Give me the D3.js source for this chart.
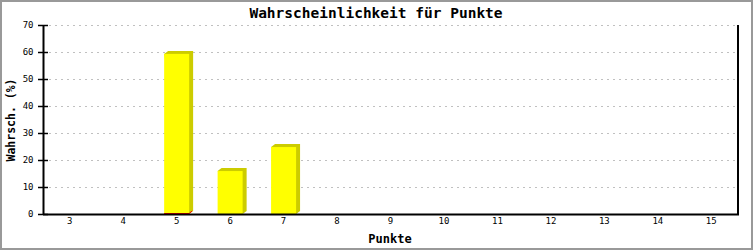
<!DOCTYPE html>
<html>
<head>
	<meta charset="UTF-8" />
	<title>Wahrscheinlichkeit</title>
	<script src="https://d3js.org/d3.v7.min.js"></script>
	<style>
		body { margin: 0; background: #fff; }
		text { font-family: "DejaVu Sans Mono", "Liberation Mono", monospace; fill: #000; }
	</style>
</head>
<body>
	<svg id="chart" width="753" height="250"></svg>

	<script type="text/javascript">
	// data
	var punkte = ["3","4","5","6","7","8","9","10","11","12","13","14","15"]
	var wahrsch = [0, 0, 59.3, 15.9, 24.8, 0, 0, 0, 0, 0, 0, 0, 0]
	var yTicks = [0, 10, 20, 30, 40, 50, 60, 70]
	var redBase = ["5"] // red bottom edge seen under this bar

	var yellow = "#ffff00"
	var shade = "#cccc00"
	var grid = "#c0c0c0"

	var svg = d3.select("#chart")
	var pLeft = 43, pRight = 738, pTop = 25, pBottom = 214
	var dx = 4, dy = 3 // shading offset

	svg.append("rect").attr("x", 1).attr("y", 1).attr("width", 751).attr("height", 248)
		.style("fill", "#fff").style("stroke", "#999").style("stroke-width", 2)

	var x = d3.scaleBand().domain(punkte).range([pLeft, pRight])
	var y = d3.scaleLinear().domain([0, 70]).range([pBottom, pTop])

	// grid
	svg.append("g").selectAll("line").data(yTicks.filter(d => d > 0)).enter()
		.append("line")
		.attr("x1", pLeft + 6).attr("x2", pRight)
		.attr("y1", d => y(d) + 0.5).attr("y2", d => y(d) + 0.5)
		.style("stroke", grid).style("stroke-dasharray", "2,4")

	// bars
	var bw = 25
	var bars = svg.append("g").selectAll("g").data(punkte.map((p, i) => ({p: p, v: wahrsch[i]})).filter(d => d.v > 0))
		.enter().append("g")
	bars.append("path")
		.attr("d", d => {
			var x0 = x(d.p) + x.bandwidth() / 2 - bw / 2, x1 = x0 + bw, yt = y(d.v)
			return `M${x0},${yt}L${x0 + dx},${yt - dy}L${x1 + dx},${yt - dy}L${x1 + dx},${pBottom - dy}L${x1},${pBottom}Z`
		})
		.style("fill", shade)
	bars.append("rect")
		.attr("x", d => x(d.p) + x.bandwidth() / 2 - bw / 2)
		.attr("y", d => y(d.v))
		.attr("width", bw)
		.attr("height", d => pBottom - y(d.v))
		.style("fill", yellow)

	svg.append("g").selectAll("path").data(redBase).enter().append("path")
		.attr("d", d => {
			var x0 = x(d) + x.bandwidth() / 2 - bw / 2, x1 = x0 + bw
			return `M${x0},${pBottom - 0.5}L${x1},${pBottom - 0.5}L${x1 + dx - 1},${pBottom - dy}`
		})
		.style("fill", "none").style("stroke", "#ff0000")

	// y axis
	var yAxis = d3.axisLeft(y).tickValues(yTicks).tickSize(0).tickPadding(10)
	var ga = svg.append("g").attr("transform", `translate(${pLeft + 0.5},0)`).call(yAxis)
	ga.select(".domain").remove()
	ga.selectAll("text").style("font-size", "9px")
	svg.append("g").selectAll("line").data(yTicks).enter().append("line")
		.attr("x1", pLeft - 5).attr("x2", pLeft + 5)
		.attr("y1", d => y(d) + 0.5).attr("y2", d => y(d) + 0.5)
		.style("stroke", "#000").style("stroke-width", 1.5)
	svg.append("line").attr("x1", pLeft + 0.5).attr("x2", pLeft + 0.5).attr("y1", pTop).attr("y2", pBottom + 1)
		.style("stroke", "#000").style("stroke-width", 2)
	svg.append("line").attr("x1", pRight).attr("x2", pRight).attr("y1", pTop).attr("y2", pBottom + 1)
		.style("stroke", "#000").style("stroke-width", 2)

	// x axis
	var xAxis = d3.axisBottom(x).tickSize(0).tickPadding(4)
	var gx = svg.append("g").attr("transform", `translate(0,${pBottom})`).call(xAxis)
	gx.select(".domain").remove()
	gx.selectAll("text").style("font-size", "9px")
	svg.append("line").attr("x1", pLeft).attr("x2", pRight + 1).attr("y1", pBottom + 0.5).attr("y2", pBottom + 0.5)
		.style("stroke", "#000").style("stroke-width", 2)

	// titles
	svg.append("text").attr("x", 376).attr("y", 18).attr("text-anchor", "middle")
		.style("font-size", "14.5px").style("font-weight", "bold")
		.text("Wahrscheinlichkeit für Punkte")
	svg.append("text").attr("x", 390).attr("y", 243).attr("text-anchor", "middle")
		.style("font-size", "12px").style("font-weight", "bold")
		.text("Punkte")
	svg.append("text").attr("transform", "translate(15,120) rotate(-90)").attr("text-anchor", "middle")
		.style("font-size", "11.5px").style("font-weight", "bold")
		.text("Wahrsch. (%)")
	</script>
</body>
</html>
